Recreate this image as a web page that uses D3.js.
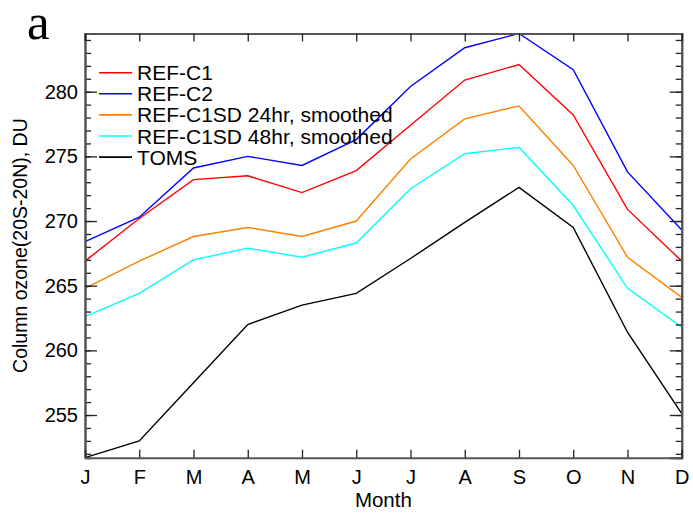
<!DOCTYPE html>
<html>
<head>
<meta charset="utf-8">
<script src="https://cdn.jsdelivr.net/npm/d3@7"></script>
<style>
  body { margin: 0; background: #fff; }
</style>
</head>
<body>
<div id="main"></div>
<script>
const ctx = {
    w: 693,
    h: 513,
    left: 85,
    top: 33.5,
    right: 681.75,
    bottom: 457.7,
    SANS: "'Liberation Sans', Arial, Helvetica, sans-serif",
    SERIF: "'Liberation Serif', 'Times New Roman', serif",
};

// month labels on the x axis
const MONTHS = ["J", "F", "M", "A", "M", "J", "J", "A", "S", "O", "N", "D"];

// zonal mean column ozone, 20S-20N, DU
const REF_C1 = [266.9, 270.2, 273.2, 273.5, 272.2, 273.9, 277.4, 280.9, 282.1, 278.2, 270.9, 266.9];
const REF_C2 = [268.4, 270.3, 274.1, 275.0, 274.3, 276.3, 280.4, 283.4, 284.5, 281.7, 273.8, 269.3];
const REF_C1SD_24 = [264.8, 266.9, 268.8, 269.5, 268.8, 270.0, 274.8, 277.9, 278.9, 274.3, 267.2, 264.1];
const REF_C1SD_48 = [262.6, 264.4, 267.0, 267.9, 267.2, 268.3, 272.5, 275.2, 275.7, 271.2, 264.8, 261.8];
const TOMS = [251.7, 253.0, 257.5, 262.0, 263.5, 264.4, 267.1, 269.9, 272.6, 269.5, 261.4, 255.1];

const SERIES_NAMES = ["REF-C1", "REF-C2", "REF-C1SD 24hr, smoothed", "REF-C1SD 48hr, smoothed", "TOMS"];
const SERIES_COLORS = ["#ff0000", "#0000ff", "#ff8000", "#00ffff", "#000000"];
const Y_MAJOR = [255, 260, 265, 270, 275, 280];
const Y_MINOR = d3.range(252, 285, 1);

function createViz() {
    let svgEl = d3.select("#main").append("svg")
        .attr("width", ctx.w)
        .attr("height", ctx.h);

    let series = [REF_C1, REF_C2, REF_C1SD_24, REF_C1SD_48, TOMS].map((v, i) => ({
        name: SERIES_NAMES[i], color: SERIES_COLORS[i], values: v
    }));

    let x = d3.scaleLinear().domain([0, 11]).range([ctx.left, ctx.right]);
    let y = d3.scaleLinear()
        .domain([d3.min(series, s => d3.min(s.values)), d3.max(series, s => d3.max(s.values))])
        .range([ctx.bottom, ctx.top]);

    // lines
    let line = d3.line().x((d, i) => x(i)).y(d => y(d));
    svgEl.selectAll("path.series")
        .data(series)
        .enter()
        .append("path")
        .attr("class", "series")
        .attr("fill", "none")
        .attr("stroke", d => d.color)
        .attr("stroke-width", 1.4)
        .attr("d", d => line(d.values));

    // frame axes
    let axisStyle = function (g) {
        g.select(".domain").attr("stroke", "#555").attr("stroke-width", 2);
        g.selectAll(".tick line").attr("stroke", "#222").attr("stroke-width", 1.3);
        g.selectAll("text").attr("font-size", 20).attr("fill", "#000")
            .attr("font-family", ctx.SANS);
    };

    // left: minor + major
    svgEl.append("g")
        .attr("transform", `translate(${ctx.left},0)`)
        .call(d3.axisRight(y).tickValues(Y_MINOR).tickSize(6).tickFormat(""))
        .call(axisStyle);
    svgEl.append("g")
        .attr("transform", `translate(${ctx.left},0)`)
        .call(d3.axisLeft(y).tickValues(Y_MAJOR).tickSizeInner(-12).tickSizeOuter(0).tickPadding(7))
        .call(axisStyle);
    // right
    svgEl.append("g")
        .attr("transform", `translate(${ctx.right},0)`)
        .call(d3.axisLeft(y).tickValues(Y_MINOR).tickSize(6).tickFormat(""))
        .call(axisStyle);
    svgEl.append("g")
        .attr("transform", `translate(${ctx.right},0)`)
        .call(d3.axisLeft(y).tickValues(Y_MAJOR).tickSize(12).tickFormat(""))
        .call(axisStyle);
    // bottom
    svgEl.append("g")
        .attr("transform", `translate(0,${ctx.bottom})`)
        .call(d3.axisBottom(x).tickValues(d3.range(12)).tickSizeInner(-8).tickSizeOuter(0)
            .tickPadding(12).tickFormat(i => MONTHS[i]))
        .call(axisStyle);
    // top
    svgEl.append("g")
        .attr("transform", `translate(0,${ctx.top})`)
        .call(d3.axisBottom(x).tickValues(d3.range(12)).tickSize(8).tickFormat(""))
        .call(axisStyle);

    // axis titles
    svgEl.append("text")
        .attr("x", (ctx.left + ctx.right) / 2)
        .attr("y", 507)
        .attr("text-anchor", "middle")
        .attr("font-family", ctx.SANS)
        .attr("font-size", 20.5)
        .text("Month");
    svgEl.append("text")
        .attr("transform", `translate(27,${(ctx.top + ctx.bottom) / 2}) rotate(-90)`)
        .attr("text-anchor", "middle")
        .attr("font-family", ctx.SANS)
        .attr("font-size", 19.5)
        .text("Column ozone(20S-20N), DU");

    // panel letter
    svgEl.append("text")
        .attr("x", 27)
        .attr("y", 38.5)
        .attr("font-family", ctx.SERIF)
        .attr("font-size", 51)
        .text("a");

    // legend
    let legendG = svgEl.append("g").attr("transform", "translate(99,72.7)");
    let rows = legendG.selectAll("g")
        .data(series)
        .enter()
        .append("g")
        .attr("transform", (d, i) => `translate(0,${i * 21.1})`);
    rows.append("line")
        .attr("x1", 0).attr("x2", 33)
        .attr("stroke", d => d.color)
        .attr("stroke-width", 1.6);
    rows.append("text")
        .attr("x", 38)
        .attr("dy", "0.36em")
        .attr("font-family", ctx.SANS)
        .attr("font-size", 21)
        .text(d => d.name);
}

createViz();
</script>
</body>
</html>
